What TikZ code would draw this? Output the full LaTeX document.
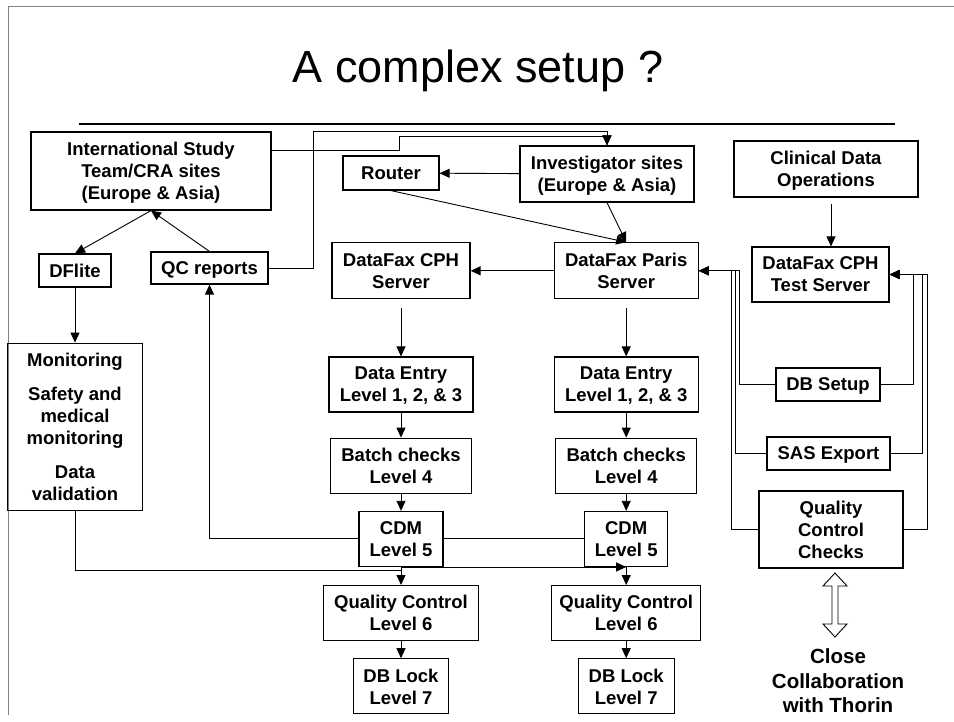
\documentclass[tikz,border=0pt]{standalone}
\usepackage{fontspec}
\setmainfont{Liberation Sans}
\usetikzlibrary{arrows.meta,positioning}

\begin{document}
\begin{tikzpicture}[x=1pt,y=-1pt,
  box/.style={draw, line width=1.2pt, align=center, inner sep=1pt, text depth=-3pt,
    font=\bfseries\fontsize{18.5}{22}\selectfont},
  every path/.style={line width=0.9pt},
  >={Triangle[length=10pt,width=9pt]}]
  \useasboundingbox (0,0) rectangle (954,721);
  % frame and title
  \draw[gray, line width=1pt] (8,715) -- (8,6) -- (954,6);
  \node[font=\fontsize{45}{54}\selectfont](title) at (478,71){A complex setup ?};
  \draw[line width=1.2pt] (79,124) -- (895,124);

  % top row
  \node[box, minimum width=240pt, minimum height=78pt](ist) at (151,171)
    {International Study\\Team/CRA sites\\(Europe \& Asia)};
  \node[box, minimum width=96pt, minimum height=34pt](router) at (391,173){Router};
  \node[box, minimum width=174pt, minimum height=56pt](inv) at (607,174)
    {Investigator sites\\(Europe \& Asia)};
  \node[box, minimum width=184pt, minimum height=56pt](clin) at (826,169)
    {Clinical Data\\Operations};

  % left
  \node[box, minimum width=72pt, minimum height=33pt](dflite) at (75,270.5){DFlite};
  \node[box, minimum width=117pt, minimum height=32pt](qcrep) at (209.5,268){QC reports};
  \node[box, minimum width=135pt, minimum height=167pt, below=55pt of dflite](mon)
    {Monitoring\\[12pt]Safety and\\medical\\monitoring\\[12pt]Data\\validation};

  % CPH column
  \node[box, minimum width=144pt, minimum height=55pt](de1) at (401,384.5)
    {Data Entry\\Level 1, 2, \& 3};
  \node[box, minimum width=138pt, minimum height=56pt, above=57pt of de1](cphsrv)
    {DataFax CPH\\Server};
  \node[box, minimum width=141pt, minimum height=55pt, below=25pt of de1](bc1)
    {Batch checks\\Level 4};
  \node[box, minimum width=84pt, minimum height=55pt, below=17pt of bc1](cdm1)
    {CDM\\Level 5};
  \node[box, minimum width=155pt, minimum height=55pt, below=18pt of cdm1](qc61)
    {Quality Control\\Level 6};
  \node[box, minimum width=95pt, minimum height=55pt, below=17pt of qc61](lock1)
    {DB Lock\\Level 7};

  % Paris column
  \node[box, minimum width=144pt, minimum height=55pt, right=80pt of de1](de2)
    {Data Entry\\Level 1, 2, \& 3};
  \node[box, minimum width=144pt, minimum height=56pt, above=57pt of de2](paris)
    {DataFax Paris\\Server};
  \node[box, minimum width=141pt, minimum height=55pt, below=25pt of de2](bc2)
    {Batch checks\\Level 4};
  \node[box, minimum width=83pt, minimum height=55pt, below=17pt of bc2](cdm2)
    {CDM\\Level 5};
  \node[box, minimum width=149pt, minimum height=55pt, below=18pt of cdm2](qc62)
    {Quality Control\\Level 6};
  \node[box, minimum width=96pt, minimum height=55pt, below=17pt of qc62](lock2)
    {DB Lock\\Level 7};

  % right
  \node[box, minimum width=137pt, minimum height=55pt](cphtest) at (820.5,274.5)
    {DataFax CPH\\Test Server};
  \node[box, minimum width=104pt, minimum height=33pt](dbset) at (828,384.5){DB Setup};
  \node[box, minimum width=123pt, minimum height=33pt](sas) at (828.5,453.5){SAS Export};
  \node[box, minimum width=144pt, minimum height=77pt](qcchk) at (831,529.5)
    {Quality\\Control\\Checks};
  \node[font=\bfseries\fontsize{20.5}{24.5}\selectfont, align=center](thorin) at (838,681)
    {Close\\Collaboration\\with Thorin};
  \draw[fill=white] (835,573) -- (847,586) -- (838,586) -- (838,624) -- (847,624)
    -- (835,637) -- (823,624) -- (832,624) -- (832,586) -- (823,586) -- cycle;

  % connectors
  \draw[->] ([yshift=21pt]ist.east) -| (399,136) -| (inv.north);
  \draw[->] (qcrep.east) -| (313,131) -| (inv.north);
  \path[->]
  (inv) edge (router)
  (router.south) edge (paris.north)
  (inv.south) edge (paris.north)
  (paris) edge (cphsrv)
  (ist.south) edge (dflite.north)
  (qcrep.north) edge (ist.south)
  (dflite) edge (mon)
  (de1) edge (bc1)
  (bc1) edge (cdm1)
  (cdm1) edge (qc61)
  (qc61) edge (lock1)
  (de2) edge (bc2)
  (bc2) edge (cdm2)
  (cdm2) edge (qc62)
  (qc62) edge (lock2);
  \draw[->, shorten <=9pt] (cphsrv.south) -- (cphsrv.south |- de1.north);
  \draw[->, shorten <=9pt] (de2.north |- paris.south) -- (de2.north);
  \draw[->] ([xshift=5pt,yshift=-6pt]clin.south) -- ([xshift=10.5pt]cphtest.north);

  \draw (cdm2.west) -- (cdm1.east);
  \draw[->] (cdm1.west) -| (qcrep.south);
  \draw (mon.south) |- ([yshift=-3pt]cdm1.south);
  \draw[->] (cdm1.south) -- (cdm2.south);

  \draw[->] (dbset.west) -| ([xshift=41pt]paris.east) -- (paris.east);
  \draw[->] (sas.west) -| ([xshift=37pt]paris.east) -- (paris.east);
  \draw[->] (qcchk.west) -| ([xshift=33pt]paris.east) -- (paris.east);
  \draw[->] (dbset.east) -| ([xshift=24pt]cphtest.east) -- (cphtest.east);
  \draw[->] (sas.east) -| ([xshift=33pt]cphtest.east) -- (cphtest.east);
  \draw[->] (qcchk.east) -| ([xshift=38pt]cphtest.east) -- (cphtest.east);
\end{tikzpicture}
\end{document}
